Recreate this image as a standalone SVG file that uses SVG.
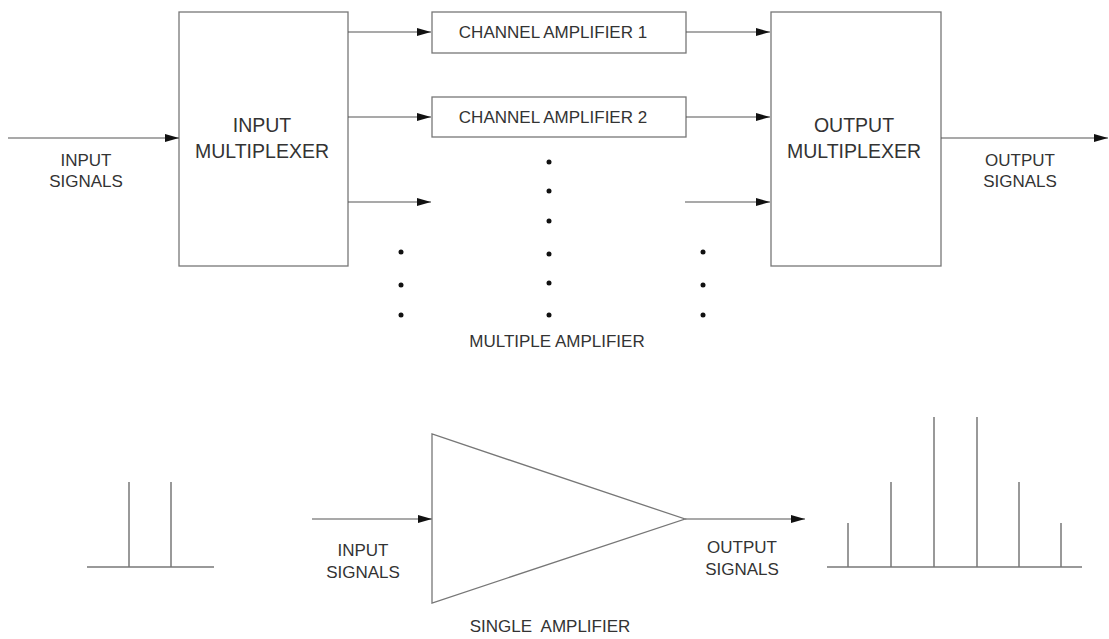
<svg xmlns="http://www.w3.org/2000/svg" width="1109" height="639" viewBox="0 0 1109 639">
<style>
.box{fill:#fff;stroke:#777;stroke-width:1.3}
.ln{stroke:#555;stroke-width:1.2;fill:none}
.ar{stroke:#555;stroke-width:1.2;fill:none;marker-end:url(#ah)}
.sp{stroke:#777;stroke-width:1.5;fill:none}
.t{font-family:"Liberation Sans",Arial,sans-serif;fill:#333;text-anchor:middle}
.big{font-size:19.5px}
.sm{font-size:17px}
.dot{fill:#111}
</style>
<defs>
<marker id="ah" markerUnits="userSpaceOnUse" markerWidth="15" markerHeight="9" refX="14" refY="4" orient="auto">
<path d="M0,0 L14,4 L0,8 z" fill="#111"/>
</marker>
</defs>
<rect width="1109" height="639" fill="#fff"/>
<g id="input-mux">
<rect class="box" x="179" y="12" width="169" height="254"/>
<text class="t big" x="262" y="132">INPUT</text>
<text class="t big" x="262" y="158">MULTIPLEXER</text>
</g>
<g id="ch-amp-1">
<rect class="box" x="432" y="12" width="254" height="41"/>
<text class="t sm" x="553" y="38">CHANNEL AMPLIFIER 1</text>
</g>
<g id="ch-amp-2">
<rect class="box" x="432" y="97" width="254" height="40"/>
<text class="t sm" x="553" y="123">CHANNEL AMPLIFIER 2</text>
</g>
<g id="output-mux">
<rect class="box" x="771" y="12" width="170" height="254"/>
<text class="t big" x="854" y="132">OUTPUT</text>
<text class="t big" x="854" y="158">MULTIPLEXER</text>
</g>
<g id="connectors">
<line class="ar" x1="8" y1="138" x2="179" y2="138"/>
<line class="ar" x1="348" y1="32" x2="431" y2="32"/>
<line class="ar" x1="348" y1="117" x2="431" y2="117"/>
<line class="ar" x1="348" y1="202" x2="431" y2="202"/>
<line class="ar" x1="686" y1="32" x2="770" y2="32"/>
<line class="ar" x1="686" y1="117" x2="770" y2="117"/>
<line class="ar" x1="685" y1="202" x2="770" y2="202"/>
<line class="ar" x1="941" y1="138" x2="1108" y2="138"/>
<line class="ar" x1="312" y1="519" x2="432" y2="519"/>
<line class="ar" x1="685" y1="519" x2="805" y2="519"/>
</g>
<g id="labels-top">
<text class="t sm" x="86" y="166">INPUT</text>
<text class="t sm" x="86" y="187">SIGNALS</text>
<text class="t sm" x="1020" y="166">OUTPUT</text>
<text class="t sm" x="1020" y="187">SIGNALS</text>
<text class="t sm" x="557" y="347">MULTIPLE AMPLIFIER</text>
</g>
<g id="dots">
<circle class="dot" cx="549" cy="162" r="2.5"/>
<circle class="dot" cx="549" cy="191" r="2.5"/>
<circle class="dot" cx="549" cy="221" r="2.5"/>
<circle class="dot" cx="549" cy="254" r="2.5"/>
<circle class="dot" cx="549" cy="283" r="2.5"/>
<circle class="dot" cx="549" cy="315" r="2.5"/>
<circle class="dot" cx="401" cy="252" r="2.5"/>
<circle class="dot" cx="401" cy="285" r="2.5"/>
<circle class="dot" cx="401" cy="315" r="2.5"/>
<circle class="dot" cx="703" cy="252" r="2.5"/>
<circle class="dot" cx="703" cy="285" r="2.5"/>
<circle class="dot" cx="703" cy="315" r="2.5"/>
</g>
<g id="single-amp">
<polygon class="box" points="432,434 432,603 685,519"/>
<text class="t sm" x="550" y="632" xml:space="preserve">SINGLE  AMPLIFIER</text>
</g>
<g id="labels-bottom">
<text class="t sm" x="363" y="556">INPUT</text>
<text class="t sm" x="363" y="578">SIGNALS</text>
<text class="t sm" x="742" y="553">OUTPUT</text>
<text class="t sm" x="742" y="575">SIGNALS</text>
</g>
<g id="input-spectrum">
<line class="sp" x1="87" y1="567" x2="214" y2="567"/>
<line class="sp" x1="129" y1="482" x2="129" y2="567"/>
<line class="sp" x1="171" y1="482" x2="171" y2="567"/>
</g>
<g id="output-spectrum">
<line class="sp" x1="827" y1="567" x2="1082" y2="567"/>
<line class="sp" x1="848" y1="523" x2="848" y2="567"/>
<line class="sp" x1="891" y1="482" x2="891" y2="567"/>
<line class="sp" x1="934" y1="417" x2="934" y2="567"/>
<line class="sp" x1="977" y1="417" x2="977" y2="567"/>
<line class="sp" x1="1019" y1="482" x2="1019" y2="567"/>
<line class="sp" x1="1061" y1="523" x2="1061" y2="567"/>
</g>
</svg>
